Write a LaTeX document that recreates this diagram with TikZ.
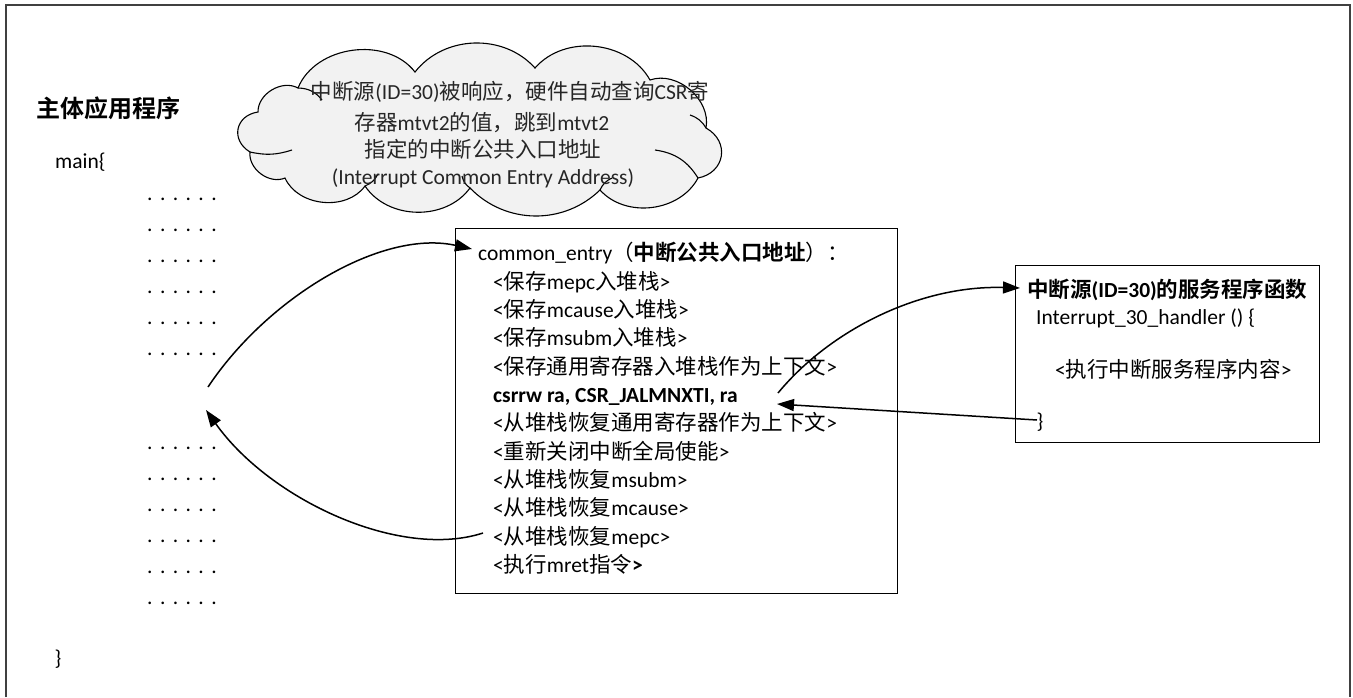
\documentclass[tikz,border=0pt]{standalone}
\usepackage{fontspec}
\setmainfont{Carlito}
\newfontfamily\cjk{Noto Sans CJK SC}[BoldFont={Noto Sans CJK SC Bold}]
\newcommand\zh[1]{{\cjk #1}}
\newcommand\fs{\fontsize{21.5}{26}\selectfont}
\newcommand\dotrowtext{.\kern7.4pt.\kern7.4pt.\kern7.4pt.\kern7.4pt.\kern7.4pt.}
\usetikzlibrary{arrows.meta}
\definecolor{cloudfill}{HTML}{F2F2F2}
\definecolor{frame}{HTML}{404040}
\begin{document}
\begin{tikzpicture}[x=1pt,y=-1pt,
  txt/.style={anchor=base west,inner sep=0pt,font=\fs},
  ctxt/.style={anchor=base,inner sep=0pt,font=\fs,text=black!85},
  dotrow/.style={anchor=base west,inner sep=0pt,font=\fs},
  boxed/.style={draw,line width=1.2pt,inner sep=0pt,anchor=north west},
  cloudline/.style={draw=black,line width=1.1pt},
  conn/.style={line width=1.5pt,-{Triangle[length=17pt,width=12pt]}}]
\useasboundingbox (0,0) rectangle (1353,697);
% outer frame (bottom edge lies outside the picture)
\draw[frame,line width=1.3pt] (6,697) -- (6,5) -- (1350,5) -- (1350,697);

% cloud (drawn in a y-up scope: points are (x,-y) in pixels)
\begin{scope}[y=1pt]
\path[cloudline,fill=cloudfill]
  (250,-152) to[bend left=70,looseness=1.45] (258,-112)
  to[bend left=60] (298,-88)
  to[bend left=60] (415,-72)
  to[bend left=50] (535,-68)
  to[bend left=55] (650,-80)
  to[bend left=60] (706,-128)
  to[bend left=70,looseness=1.4] (698,-178)
  to[bend left=55] (600,-190)
  to[bend left=45] (470,-188)
  to[bend left=55] (365,-186)
  to[bend left=60] (285,-178)
  to[bend left=60] (250,-152) -- cycle;
\draw[cloudline] (250,-152) to[bend right=15] (292,-150);
\draw[cloudline] (298,-88) to[bend left=25] (322,-100);
\draw[cloudline] (706,-128) to[bend right=20] (690,-115);
\draw[cloudline] (698,-178) to[bend right=25] (655,-150);
\draw[cloudline] (470,-188) to[bend left=20] (462,-176);
\draw[cloudline] (365,-186) to[bend right=20] (378,-174);
\draw[cloudline] (600,-190) to[bend left=20] (612,-178);
\end{scope}
\node[ctxt] (c1) at (510,99) {\zh{中断源}(ID=30)\zh{被响应，硬件自动查询}CSR\zh{寄}};
\node[ctxt] (c2) at (482,130) {\zh{存器}mtvt2\zh{的值，跳到}mtvt2};
\node[ctxt] (c3) at (483,157) {\zh{指定的中断公共入口地址}};
\node[ctxt] (c4) at (483,184) {(Interrupt Common Entry Address)};

% main program
\node[anchor=base west,inner sep=0pt,font=\fontsize{24}{28}\selectfont\bfseries] (title) at (36,117) {\zh{主体应用程序}};
\node[txt] (main) at (55,168) {main\{};
\foreach \y [count=\i] in {198,229,260,291,322,353} {
  \node[dotrow] (da\i) at (147,\y+2) {\dotrowtext};
}
\foreach \y [count=\i] in {447,478,509,540,571,602} {
  \node[dotrow] (db\i) at (147,\y+2) {\dotrowtext};
}
\node[inner sep=0pt,font=\fs] (mainend) at (58,659) {\}};

% common entry box
\node[boxed,minimum width=442pt,minimum height=365pt] (common) at (455,228) {};
\node[txt] (h) at (478,260) {common\_entry\zh{（}{\bfseries\zh{中断公共入口地址}}\zh{）：}};
\node[txt] (l1) at (493,289) {<\zh{保存}mepc\zh{入堆栈}>};
\node[txt] (l2) at (493,317) {<\zh{保存}mcause\zh{入堆栈}>};
\node[txt] (l3) at (493,345) {<\zh{保存}msubm\zh{入堆栈}>};
\node[txt] (l4) at (493,374) {<\zh{保存通用寄存器入堆栈作为上下文}>};
\node[txt,font=\fs\bfseries] (l5) at (493,402) {csrrw ra, CSR\_JALMNXTI, ra};
\node[txt] (l6) at (493,430) {<\zh{从堆栈恢复通用寄存器作为上下文}>};
\node[txt] (l7) at (493,459) {<\zh{重新关闭中断全局使能}>};
\node[txt] (l8) at (493,487) {<\zh{从堆栈恢复}msubm>};
\node[txt] (l9) at (493,515) {<\zh{从堆栈恢复}mcause>};
\node[txt] (l10) at (493,544) {<\zh{从堆栈恢复}mepc>};
\node[txt] (l11) at (493,572) {<\zh{执行}mret\zh{指令}{\bfseries >}};

% handler box
\node[boxed,minimum width=304pt,minimum height=177pt] (handler) at (1015,265) {};
\node[txt,font=\fs\bfseries] (ht) at (1027,297) {\zh{中断源}(ID=30)\zh{的服务程序函数}};
\node[txt] (hl1) at (1036,324) {Interrupt\_30\_handler () \{};
\node[txt] (hl2) at (1055,377) {<\zh{执行中断服务程序内容}>};
\node[inner sep=0pt,font=\fs] (hl3) at (1040,422) {\}};

% connectors
\coordinate (a1s) at (208,387);
\coordinate (a1e) at (472,249);
\coordinate (a2s) at (483,533);
\coordinate (a2e) at (206,410);
\coordinate (a3s) at (778,393);
\coordinate (a3e) at (1020,288);
\coordinate (a4s) at (1037,420);
\coordinate (a4e) at (777,404);
\draw[conn] (a1s) .. controls (268,297) and (382,229) .. (a1e);
\draw[conn] (a2s) .. controls (400,560) and (270,500) .. (a2e);
\draw[conn] (a3s) .. controls (830,330) and (920,285) .. (a3e);
\draw[conn] (a4s) -- (a4e);
\end{tikzpicture}
\end{document}
